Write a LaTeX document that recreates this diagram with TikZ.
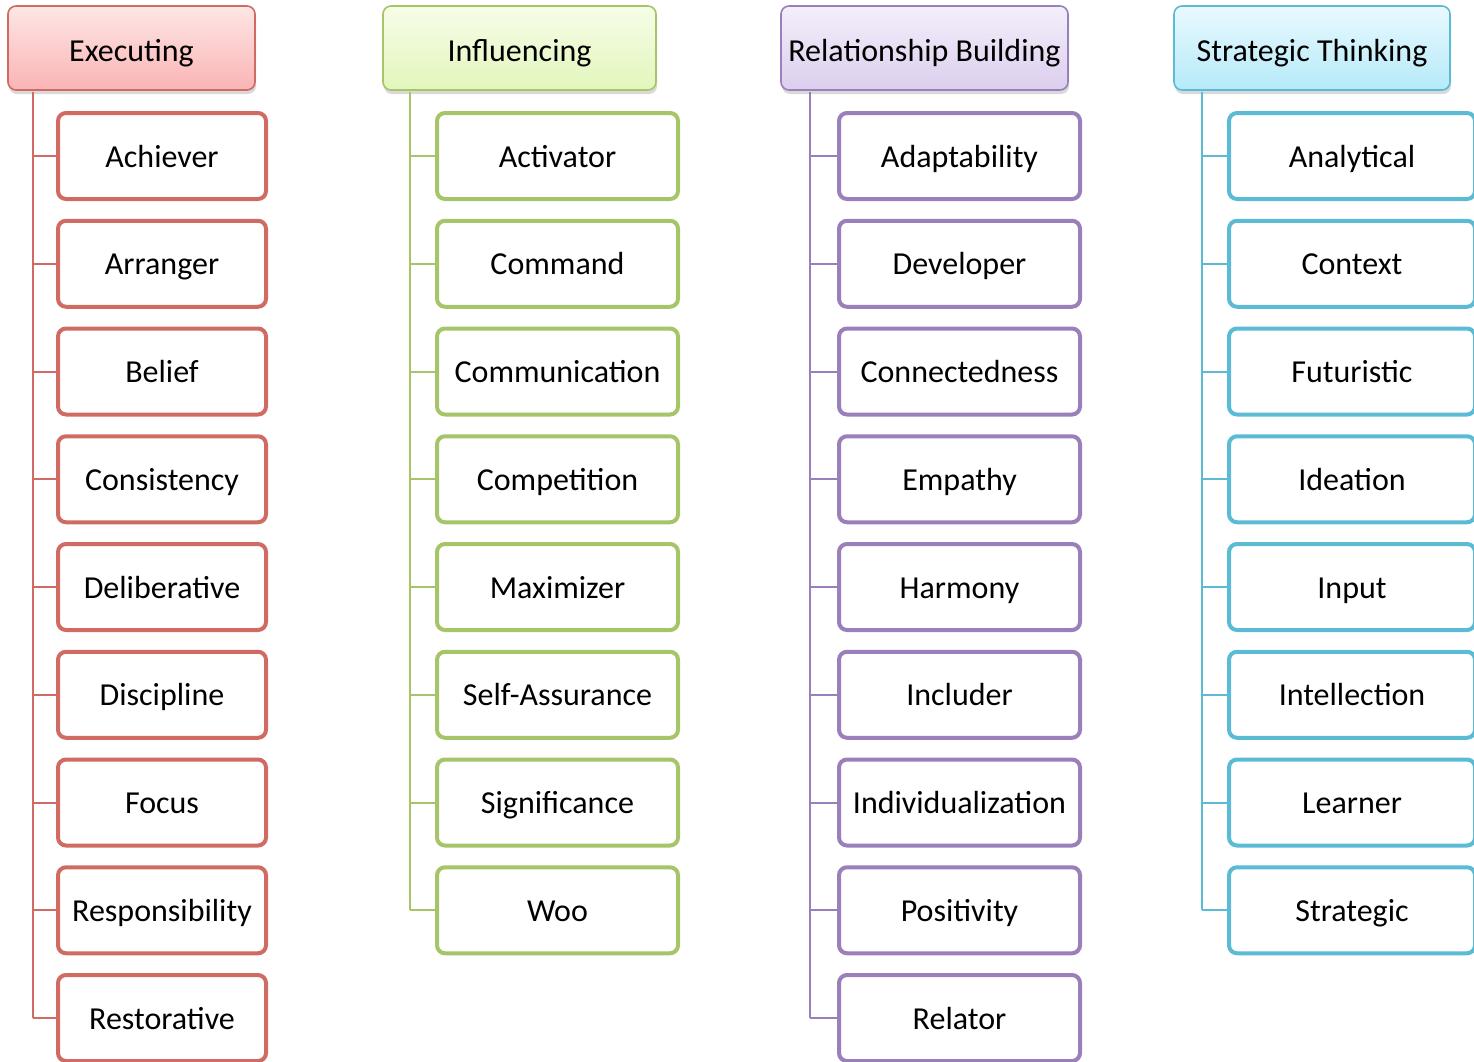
\documentclass[tikz,border=0pt]{standalone}
\usepackage{fontspec}
\setmainfont{Carlito}
\usetikzlibrary{shadows}
\definecolor{cR}{HTML}{D06B64}
\definecolor{cG}{HTML}{A6C468}
\definecolor{cP}{HTML}{9A7FBA}
\definecolor{cB}{HTML}{5BBBD4}
\definecolor{hRt}{HTML}{FEE6E6}\definecolor{hRb}{HTML}{FAB4B4}
\definecolor{hGt}{HTML}{F6FDE8}\definecolor{hGb}{HTML}{E2F6BC}
\definecolor{hPt}{HTML}{F3EFFA}\definecolor{hPb}{HTML}{DCCEEE}
\definecolor{hBt}{HTML}{E9F9FE}\definecolor{hBb}{HTML}{B5EAF9}
\begin{document}
\begin{tikzpicture}[x=1pt,y=-1pt,
  txt/.style={font=\fontsize{32}{36}\selectfont, text=black},
  head/.style={txt, draw=#1, line width=1.6pt, rounded corners=8pt,
    minimum height=84pt, inner sep=0pt, text height=30pt, text depth=4pt,
    drop shadow={opacity=0.3, shadow xshift=1pt, shadow yshift=-4pt}},
  leaf/.style={txt, draw=#1, line width=4pt, rounded corners=8pt, fill=white,
    minimum height=86pt, inner sep=0pt, text height=28pt, text depth=6pt},
  link/.style={draw=#1, line width=2pt}]
\useasboundingbox (0,0) rectangle (1474,1061);
\clip (0,0) rectangle (1474,1061);

% headers
\node[head=cR, top color=hRt, bottom color=hRb, minimum width=247pt] (hE) at (131.5,48) {Executing};
\node[head=cG, top color=hGt, bottom color=hGb, minimum width=273pt] (hI) at (519.5,48) {Influencing};
\node[head=cP, top color=hPt, bottom color=hPb, minimum width=287pt] (hR) at (924.5,48) {Relationship Building};
\node[head=cB, top color=hBt, bottom color=hBb, minimum width=276pt] (hS) at (1312,48) {Strategic Thinking};

% spine tops
\coordinate (tE) at (32.5,92);
\coordinate (tI) at (410,92);
\coordinate (tR) at (810,92);
\coordinate (tS) at (1202,92);

% Executing
\foreach \t [count=\i] in {Achiever,Arranger,Belief,Consistency,Deliberative,Discipline,Focus,Responsibility,Restorative}{
  \node[leaf=cR, minimum width=208pt] (e\i) at (162,{156+107.75*(\i-1)}) {\t};
  \draw[link=cR] (tE |- e\i.west) -- (e\i.west);
}
\draw[link=cR] (tE) -- (tE |- e9.west);

% Influencing
\foreach \t [count=\i] in {Activator,Command,Communication,Competition,Maximizer,Self-Assurance,Significance,Woo}{
  \node[leaf=cG, minimum width=241pt] (i\i) at (557.5,{156+107.75*(\i-1)}) {\t};
  \draw[link=cG] (tI |- i\i.west) -- (i\i.west);
}
\draw[link=cG] (tI) -- (tI |- i8.west);

% Relationship Building
\foreach \t [count=\i] in {Adaptability,Developer,Connectedness,Empathy,Harmony,Includer,Individualization,Positivity,Relator}{
  \node[leaf=cP, minimum width=241pt] (r\i) at (959.5,{156+107.75*(\i-1)}) {\t};
  \draw[link=cP] (tR |- r\i.west) -- (r\i.west);
}
\draw[link=cP] (tR) -- (tR |- r9.west);

% Strategic Thinking
\foreach \t [count=\i] in {Analytical,Context,Futuristic,Ideation,Input,Intellection,Learner,Strategic}{
  \node[leaf=cB, minimum width=246pt] (s\i) at (1352,{156+107.75*(\i-1)}) {\t};
  \draw[link=cB] (tS |- s\i.west) -- (s\i.west);
}
\draw[link=cB] (tS) -- (tS |- s8.west);
\end{tikzpicture}
\end{document}
